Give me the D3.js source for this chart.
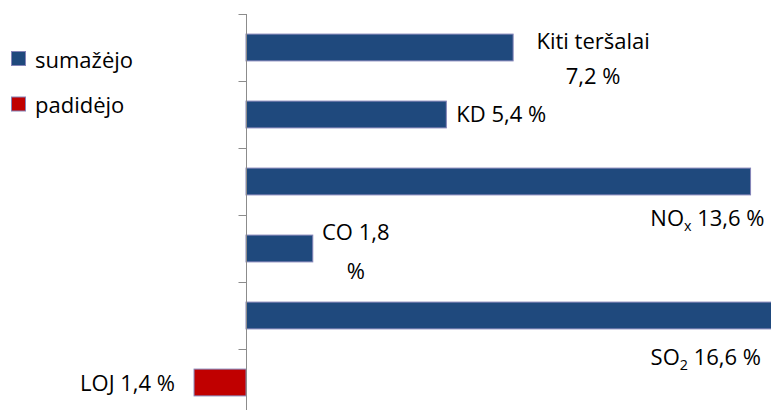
<!DOCTYPE html>
<html>
<head>
<meta charset="utf-8">
<script src="https://cdn.jsdelivr.net/npm/d3@7"></script>
<style>
  html, body { margin: 0; padding: 0; background: #fff; }
  svg { display: block; }
  text { font-family: "Open Sans", "Liberation Sans", sans-serif; fill: #000; }
</style>
</head>
<body>
<svg id="chart" width="771" height="410"></svg>
<script>
// ---- data ----
const categories = ["Kiti teršalai", "KD", "NOx", "CO", "SO2", "LOJ"];
const values = [7.2, 5.4, 13.6, 1.8, 16.6, -1.4];
const valueLabels = ["7,2 %", "5,4 %", "13,6 %", "1,8 %", "16,6 %", "1,4 %"];
const legendLabels = ["sumažėjo", "padidėjo"];

// ---- styles ----
const colDown = "#1F497D";
const colUp = "#C00000";
const barStroke = "#8484B8";
const axisCol = "#8C8C8C";
const FS = 22;

const svg = d3.select("#chart");
const W = 771, H = 410;

const x = d3.scaleLinear().domain([-2, 18]).range([171.8, 913.8]);
const y = d3.scaleBand().domain(categories).range([14, 416]).paddingInner(0.6).paddingOuter(0.3);

const plot = svg.append("g");

// bars
plot.selectAll("rect.bar").data(categories).join("rect")
  .attr("class", "bar")
  .attr("x", (d, i) => Math.min(x(0), x(values[i])))
  .attr("y", d => y(d))
  .attr("width", (d, i) => Math.abs(x(values[i]) - x(0)))
  .attr("height", y.bandwidth())
  .attr("fill", (d, i) => values[i] >= 0 ? colDown : colUp)
  .attr("stroke", barStroke)
  .attr("stroke-width", 1);

// vertical category axis at zero (no labels)
const axis = d3.axisLeft(y).tickSize(8).tickFormat("").tickSizeOuter(0);
const axG = plot.append("g").attr("transform", `translate(${Math.round(x(0)) + 0.5},0)`).call(axis);
axG.select(".domain").attr("stroke", axisCol).attr("d", `M0,14V${H}`);
// ticks at band boundaries (Excel style)
axG.selectAll(".tick").remove();
const bounds = d3.range(categories.length).map(i => 14 + i * y.step());
axG.selectAll("line.bt").data(bounds).join("line")
  .attr("class", "bt")
  .attr("x1", -8).attr("x2", 0)
  .attr("y1", d => Math.round(d) + 0.5).attr("y2", d => Math.round(d) + 0.5)
  .attr("stroke", axisCol);

// ---- data labels ----
const cy = d => y(d) + y.bandwidth() / 2;
const labG = svg.append("g").style("font-size", FS + "px");

function addText(px, py, anchor, parts) {
  const t = labG.append("text").attr("x", px).attr("y", py).attr("text-anchor", anchor);
  parts.forEach(p => {
    const ts = t.append("tspan").text(p.t);
    if (p.sub) ts.attr("font-size", FS * 0.65).attr("dy", 5);
    if (p.back) ts.attr("dy", -5);
  });
  return t;
}

// Kiti teršalai (two lines, centred)
{
  const c = categories[0], ex = x(values[0]) + 80;
  addText(ex, cy(c) + 1, "middle", [{t: "Kiti teršalai"}]);
  addText(ex, cy(c) + 36.5, "middle", [{t: valueLabels[0]}]);
}
// KD
{
  const c = categories[1];
  addText(x(values[1]) + 10, cy(c) + 7, "start", [{t: "KD " + valueLabels[1]}]);
}
// NOx
{
  const c = categories[2];
  addText(x(values[2]) + 14, cy(c) + 44, "end", [{t: "NO"}, {t: "x", sub: true}, {t: " " + valueLabels[2], back: true}]);
}
// CO (two lines)
{
  const c = categories[3], ex = x(values[3]) + 43;
  addText(ex, cy(c) - 9, "middle", [{t: "CO 1,8"}]);
  addText(ex, cy(c) + 30, "middle", [{t: "%"}]);
}
// SO2
{
  const c = categories[4];
  addText(761, cy(c) + 49, "end", [{t: "SO"}, {t: "2", sub: true}, {t: " " + valueLabels[4], back: true}]);
}
// LOJ
{
  const c = categories[5];
  addText(x(values[5]) - 19, cy(c) + 8, "end", [{t: "LOJ " + valueLabels[5]}]);
}

// ---- legend ----
const leg = svg.append("g").style("font-size", FS + "px");
const legColors = [colDown, colUp];
legendLabels.forEach((l, i) => {
  const g = leg.append("g").attr("transform", `translate(0,${i * 45.5})`);
  g.append("rect").attr("x", 11.5).attr("y", 51.5).attr("width", 14).attr("height", 14)
    .attr("fill", legColors[i]).attr("stroke", barStroke);
  g.append("text").attr("x", 35).attr("y", 67.5).text(l);
});
</script>
</body>
</html>
